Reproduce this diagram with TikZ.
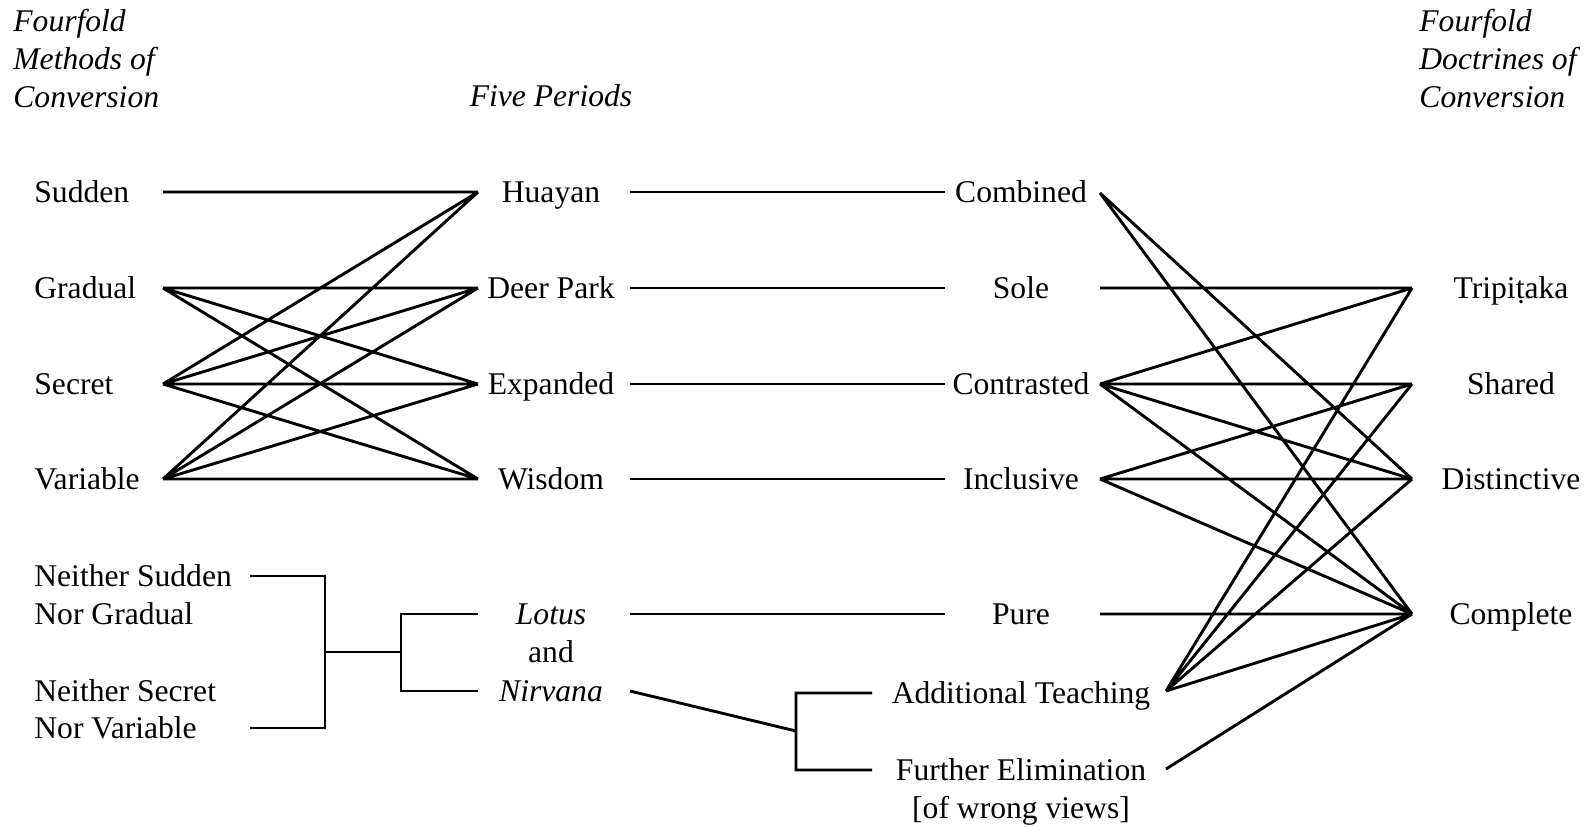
\documentclass[tikz,border=0pt]{standalone}
\usepackage{fontspec}
\setmainfont{Liberation Serif}
\tikzset{lbl/.style={font=\fontsize{15.8}{19}\selectfont,text height=1.5ex,text depth=.25ex,inner sep=0pt,yshift=-2.5pt},
  itl/.style={lbl,font=\fontsize{15.8}{19}\selectfont\itshape},
  hd/.style={font=\fontsize{15.8}{19}\selectfont\itshape,align=left,anchor=north west,inner sep=0pt},
  link/.style={line width=1.45pt}}
\begin{document}
\begin{tikzpicture}[x=0.5pt,y=-0.5pt]
\useasboundingbox (0,0) rectangle (1593,826);
% headers
\node[hd] (mhead) at (13,9) {Fourfold\\Methods of\\Conversion};
\node[itl] (phead) at (551,96) {Five Periods};
\node[hd] (dhead) at (1419,9) {Fourfold\\Doctrines of\\Conversion};
% methods
\node[lbl,anchor=west] (sudden) at (34,192) {Sudden};
\node[lbl,anchor=west] (gradual) at (34,288) {Gradual};
\node[lbl,anchor=west] (secret) at (34,384) {Secret};
\node[lbl,anchor=west] (variable) at (34,479) {Variable};
\node[lbl,anchor=west] (nsudden) at (34,576) {Neither Sudden};
\node[lbl,anchor=west] (ngradual) at (34,614) {Nor Gradual};
\node[lbl,anchor=west] (nsecret) at (34,691) {Neither Secret};
\node[lbl,anchor=west] (nvariable) at (34,728) {Nor Variable};
% periods
\node[lbl] (huayan) at (551,192) {Huayan};
\node[lbl] (deerpark) at (551,288) {Deer Park};
\node[lbl] (expanded) at (551,384) {Expanded};
\node[lbl] (wisdom) at (551,479) {Wisdom};
\node[itl] (lotus) at (551,614) {Lotus};
\node[lbl] (and) at (551,652) {and};
\node[itl] (nirvana) at (551,691) {Nirvana};
% teachings
\node[lbl] (combined) at (1021,192) {Combined};
\node[lbl] (sole) at (1021,288) {Sole};
\node[lbl] (contrasted) at (1021,384) {Contrasted};
\node[lbl] (inclusive) at (1021,479) {Inclusive};
\node[lbl] (pure) at (1021,614) {Pure};
\node[lbl] (addteach) at (1021,693) {Additional Teaching};
\node[lbl] (furelim) at (1021,770) {Further Elimination};
\node[lbl] (wrongviews) at (1021,808) {[of wrong views]};
% doctrines
\node[lbl] (tripitaka) at (1511,288) {Tripiṭaka};
\node[lbl] (shared) at (1511,384) {Shared};
\node[lbl] (distinctive) at (1511,479) {Distinctive};
\node[lbl] (complete) at (1511,614) {Complete};
% line ends
\coordinate (sud) at (163,192); \coordinate (gra) at (163,288);
\coordinate (sec) at (163,384); \coordinate (var) at (163,479);
\coordinate (huaL) at (478,192); \coordinate (deeL) at (478,288);
\coordinate (expL) at (478,384); \coordinate (wisL) at (478,479);
\coordinate (huaR) at (630,192); \coordinate (deeR) at (630,288);
\coordinate (expR) at (630,384); \coordinate (wisR) at (630,479);
\coordinate (lotR) at (630,614); \coordinate (nirR) at (630,691);
\coordinate (comL) at (945,192); \coordinate (solL) at (945,288);
\coordinate (conL) at (945,384); \coordinate (incL) at (945,479);
\coordinate (purL) at (945,614);
\coordinate (comR) at (1100,193); \coordinate (solR) at (1100,288);
\coordinate (conR) at (1100,384); \coordinate (incR) at (1100,479);
\coordinate (purR) at (1100,614);
\coordinate (addR) at (1166,691); \coordinate (furR) at (1166,769);
\coordinate (tri) at (1412,288); \coordinate (sha) at (1412,384);
\coordinate (dis) at (1412,479); \coordinate (cpl) at (1412,614);
\coordinate (nsA) at (250,576); \coordinate (nsB) at (250,728);
\coordinate (b1t) at (325,576); \coordinate (b1b) at (325,728);
\coordinate (b1m) at (325,652); \coordinate (b2m) at (401,652);
\coordinate (b2t) at (401,614); \coordinate (b2b) at (401,691);
\coordinate (lotL) at (478,614); \coordinate (nirL) at (478,691);
\coordinate (b3m) at (796,731); \coordinate (b3t) at (796,693);
\coordinate (b3b) at (796,770);
\coordinate (addL) at (872,693); \coordinate (furL) at (872,770);
% methods to periods
\draw[link](sud)--(huaL)(gra)--(deeL)(gra)--(expL)(gra)--(wisL)
 (sec)--(huaL)(sec)--(deeL)(sec)--(expL)(sec)--(wisL)
 (var)--(huaL)(var)--(deeL)(var)--(expL)(var)--(wisL);
\draw[link](nsA)--(b1t)--(b1b)--(nsB)(b1m)--(b2m)(lotL)--(b2t)--(b2b)--(nirL);
% periods to teachings
\draw[link](huaR)--(comL)(deeR)--(solL)(expR)--(conL)(wisR)--(incL)(lotR)--(purL);
\draw[link](nirR)--(b3m)(addL)--(b3t)--(b3b)--(furL);
% teachings to doctrines
\draw[link](comR)--(dis)(comR)--(cpl)(solR)--(tri)
 (conR)--(tri)(conR)--(sha)(conR)--(dis)(conR)--(cpl)
 (incR)--(sha)(incR)--(dis)(incR)--(cpl)(purR)--(cpl)
 (addR)--(tri)(addR)--(sha)(addR)--(dis)(addR)--(cpl)(furR)--(cpl);
\end{tikzpicture}
\end{document}
